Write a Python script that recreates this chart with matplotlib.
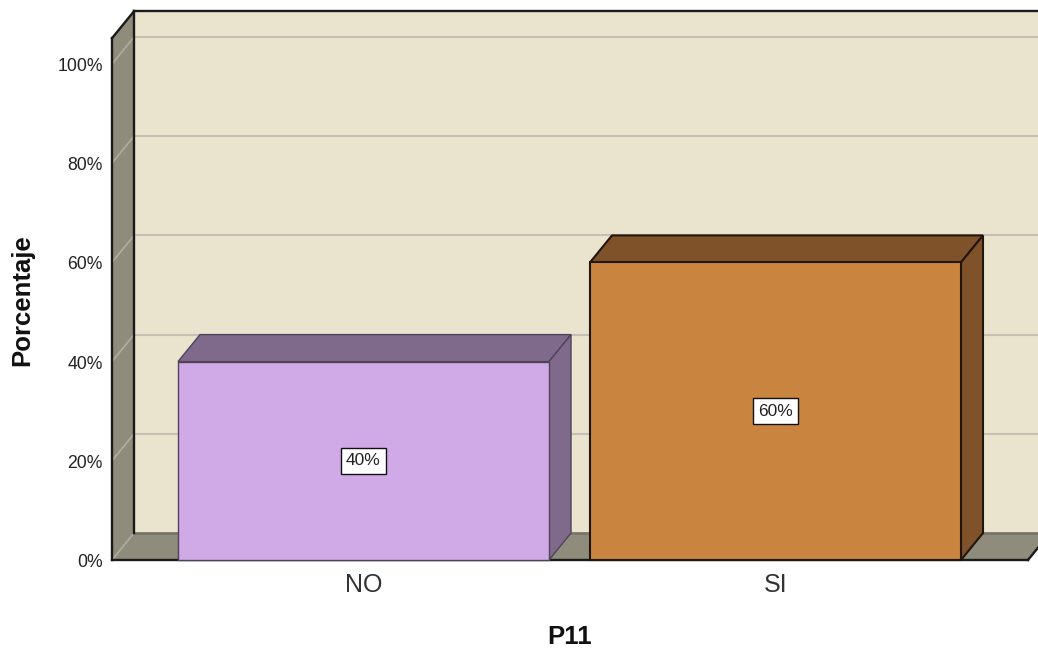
import matplotlib
matplotlib.use('Agg')
import matplotlib.pyplot as plt
from matplotlib.patches import Polygon

plt.rcParams['font.family'] = ['Liberation Sans', 'DejaVu Sans']

categories = ['NO', 'SI']
percentages = [40, 60]
value_labels = ['40%', '60%']
y_ticks = [0, 20, 40, 60, 80, 100]
y_tick_labels = ['0%', '20%', '40%', '60%', '80%', '100%']

face_colors = ['#cfaae6', '#c9843f']
shade_colors = ['#806a8c', '#80522a']
edge_colors = ['#4f4358', '#21160c']

WALL = '#8f8c7c'
BACK = '#eae4cf'
GRID = '#c4c0b6'
LINE = '#1a1a1a'

# pixel layout of the 1038x650 canvas
W, H = 1038, 650
PX_PER_CAT = 412
PX_PER_PCT = 4.96
CAT0_PX = 363.5
BASE_PX = 560

# depth of the pseudo 3D box, in data units
DX = 22 / PX_PER_CAT
DY = 27 / PX_PER_PCT
BAR_W = 371 / PX_PER_CAT

fig = plt.figure(figsize=(W / 100, H / 100), dpi=100)
ax = fig.add_axes([0, 0, 1, 1])
ax.set_xlim(-CAT0_PX / PX_PER_CAT, (W - CAT0_PX) / PX_PER_CAT)
ax.set_ylim((BASE_PX - H) / PX_PER_PCT, BASE_PX / PX_PER_PCT)
ax.axis('off')

x_left = (112 - CAT0_PX) / PX_PER_CAT
x_right = (1028 - CAT0_PX) / PX_PER_CAT
y_top = 105.2

# back wall
ax.add_patch(Polygon([(x_left + DX, DY), (x_right + DX, DY), (x_right + DX, y_top + DY), (x_left + DX, y_top + DY)],
                     facecolor=BACK, edgecolor='none', zorder=1))
# left wall and floor
ax.add_patch(Polygon([(x_left, 0), (x_left + DX, DY), (x_left + DX, y_top + DY), (x_left, y_top)],
                     facecolor=WALL, edgecolor='none', zorder=1))
ax.add_patch(Polygon([(x_left, 0), (x_right, 0), (x_right + DX, DY), (x_left + DX, DY)],
                     facecolor=WALL, edgecolor='none', zorder=1))

# gridlines run along the side wall and across the back
for t in y_ticks:
    ax.plot([x_left, x_left + DX], [t, t + DY], color='#b0ada3', lw=1.2, zorder=2)
    if t > 0:
        ax.plot([x_left + DX, x_right + DX], [t + DY, t + DY], color=GRID, lw=1.5, zorder=2)

# box outlines
ax.plot([x_left + DX, x_right + DX], [DY, DY], color='#77756a', lw=2, zorder=2)
ax.plot([x_left + DX, x_left + DX], [DY, y_top + DY], color=LINE, lw=1.7, zorder=3)
ax.plot([x_left + DX, x_right + DX], [y_top + DY, y_top + DY], color=LINE, lw=1.7, zorder=3)
ax.plot([x_left, x_left + DX], [y_top, y_top + DY], color=LINE, lw=1.7, zorder=3)
ax.plot([x_left, x_left], [0, y_top], color=LINE, lw=1.7, zorder=3)
ax.plot([x_left, x_right], [0, 0], color=LINE, lw=1.7, zorder=3)
ax.plot([x_right, x_right + DX], [0, DY], color=LINE, lw=1.7, zorder=3)

# bars: front face from the library, top and side faces as offset polygons
for i, (cat, val) in enumerate(zip(categories, percentages)):
    x0 = i - BAR_W / 2
    x1 = i + BAR_W / 2
    lw = 1.0 if i == 0 else 1.5
    ax.add_patch(Polygon([(x0, val), (x1, val), (x1 + DX, val + DY), (x0 + DX, val + DY)],
                         facecolor=shade_colors[i], edgecolor=edge_colors[i], lw=lw, zorder=4))
    ax.add_patch(Polygon([(x1, 0), (x1 + DX, DY), (x1 + DX, val + DY), (x1, val)],
                         facecolor=shade_colors[i], edgecolor=edge_colors[i], lw=lw, zorder=4))
    ax.bar(i, val, width=BAR_W, color=face_colors[i], edgecolor=edge_colors[i], linewidth=lw, zorder=5)
    ax.text(i, val / 2, value_labels[i], ha='center', va='center', fontsize=12.5, color='#222222', zorder=6,
            bbox=dict(boxstyle='square,pad=0.3', facecolor='white', edgecolor='#111111', linewidth=1))
    ax.text(i, -5.0, cat, ha='center', va='center', fontsize=18, color='#333333', zorder=6)

# y tick labels
for t, label in zip(y_ticks, y_tick_labels):
    ax.text(x_left - 9 / PX_PER_CAT, t - 0.5, label, ha='right', va='center', fontsize=12.7, color='#222222')

ax.text((22 - CAT0_PX) / PX_PER_CAT, 52.4, 'Porcentaje', rotation=90, ha='center', va='center',
        fontsize=18.5, fontweight='bold', color='#111111')
ax.text((570 - CAT0_PX) / PX_PER_CAT, -15.6, 'P11', ha='center', va='center',
        fontsize=18.5, fontweight='bold', color='#111111')

fig.savefig('out.png', dpi=100)
